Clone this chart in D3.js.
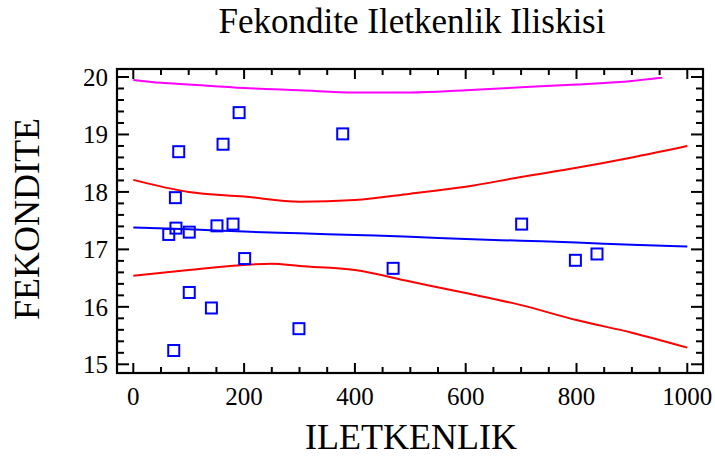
<!DOCTYPE html>
<html>
<head>
<meta charset="utf-8">
<script src="https://cdn.jsdelivr.net/npm/d3@7"></script>
<style>
  body { margin: 0; background: #fff; }
</style>
</head>
<body>
<div id="chart"></div>
<script>
// observations (ILETKENLIK, FEKONDITE)
var obsX = [82, 162, 191, 378, 76, 77, 64, 101, 151, 180, 201, 101, 141, 73, 299, 469, 701, 798, 837];
var obsY = [18.70, 18.83, 19.38, 19.01, 17.90, 17.37, 17.26, 17.30, 17.41, 17.44, 16.84, 16.25, 15.98, 15.24, 15.62, 16.67, 17.44, 16.81, 16.92];

// fitted line
var fitX = [0, 100, 200, 300, 400, 500, 600, 700, 800, 900, 1000];
var fitY = [17.38, 17.35, 17.31, 17.28, 17.25, 17.22, 17.18, 17.15, 17.12, 17.08, 17.05];

// confidence limits
var confX = [0, 100, 200, 250, 300, 400, 500, 600, 700, 800, 900, 1000];
var confLo = [16.54, 16.64, 16.73, 16.75, 16.71, 16.64, 16.44, 16.24, 16.03, 15.77, 15.55, 15.29];
var confHiX = [0, 100, 200, 300, 400, 500, 600, 700, 800, 900, 1000];
var confHi = [18.21, 18.00, 17.92, 17.83, 17.86, 17.97, 18.09, 18.26, 18.42, 18.60, 18.80];

// upper prediction limit
var predX = [0, 50, 100, 200, 300, 400, 500, 600, 700, 800, 900, 955];
var predHi = [19.95, 19.90, 19.87, 19.81, 19.77, 19.73, 19.73, 19.77, 19.82, 19.87, 19.93, 19.99];

var xTicks = [0, 200, 400, 600, 800, 1000];
var yTicks = [15, 16, 17, 18, 19, 20];

var W = 715, H = 456;
var frame = { left: 117, right: 703, top: 69, bottom: 373 };
var FONT = "'Liberation Serif', 'Times New Roman', serif";

var svg = d3.select("#chart").append("svg")
  .attr("width", W).attr("height", H);

var x = d3.scaleLinear().domain([0, 1000]).range([133.3, 687.3]);
var y = d3.scaleLinear().domain([15, 20]).range([364.3, 77]);

// title
svg.append("text")
  .attr("x", 412).attr("y", 33)
  .attr("text-anchor", "middle")
  .attr("font-family", FONT)
  .attr("font-size", 35)
  .text("Fekondite Iletkenlik Iliskisi");

// axis titles
svg.append("text")
  .attr("x", 411).attr("y", 449)
  .attr("text-anchor", "middle")
  .attr("font-family", FONT)
  .attr("font-size", 36)
  .text("ILETKENLIK");

svg.append("text")
  .attr("transform", "translate(39,219) rotate(-90)")
  .attr("text-anchor", "middle")
  .attr("font-family", FONT)
  .attr("font-size", 36)
  .text("FEKONDITE");

// clip for curves
svg.append("clipPath").attr("id", "plotclip")
  .append("rect")
  .attr("x", frame.left).attr("y", y(20))
  .attr("width", frame.right - frame.left)
  .attr("height", frame.bottom - y(20));

var plot = svg.append("g").attr("clip-path", "url(#plotclip)");

var line = d3.line()
  .x(function(d) { return x(d[0]); })
  .y(function(d) { return y(d[1]); })
  .curve(d3.curveMonotoneX);

function addCurve(xs, ys, color) {
  plot.append("path")
    .datum(d3.zip(xs, ys))
    .attr("d", line)
    .attr("fill", "none")
    .attr("stroke", color)
    .attr("stroke-width", 2);
}

addCurve(predX, predHi, "#ff00ff");
addCurve(confHiX, confHi, "#ff0000");
addCurve(confX, confLo, "#ff0000");
addCurve(fitX, fitY, "#0000ff");

// points
svg.append("g").selectAll("rect")
  .data(d3.zip(obsX, obsY))
  .enter().append("rect")
  .attr("x", function(d) { return x(d[0]) - 5.5; })
  .attr("y", function(d) { return y(d[1]) - 5.5; })
  .attr("width", 11).attr("height", 11)
  .attr("fill", "none")
  .attr("stroke", "#0000ff")
  .attr("stroke-width", 2);

// ticks (inward), all four sides
var xMinor = d3.range(0, 1001, 50);
var yMinor = d3.range(15, 20.01, 0.2);
var ax = svg.append("g").attr("stroke", "#000").attr("stroke-width", 2);

xMinor.forEach(function(v) {
  var len = (v % 200 === 0) ? 10 : 6;
  ax.append("line").attr("x1", x(v)).attr("x2", x(v))
    .attr("y1", frame.bottom).attr("y2", frame.bottom - len);
  ax.append("line").attr("x1", x(v)).attr("x2", x(v))
    .attr("y1", frame.top).attr("y2", frame.top + len);
});

yMinor.forEach(function(v) {
  var major = Math.abs(v - Math.round(v)) < 1e-6;
  var len = major ? 12 : 7;
  ax.append("line").attr("y1", y(v)).attr("y2", y(v))
    .attr("x1", frame.left).attr("x2", frame.left + len);
  ax.append("line").attr("y1", y(v)).attr("y2", y(v))
    .attr("x1", frame.right).attr("x2", frame.right - len);
});

svg.append("rect")
  .attr("x", frame.left).attr("y", frame.top)
  .attr("width", frame.right - frame.left)
  .attr("height", frame.bottom - frame.top)
  .attr("fill", "none")
  .attr("stroke", "#000")
  .attr("stroke-width", 2.2);

// tick labels
svg.append("g").selectAll("text")
  .data(xTicks).enter().append("text")
  .attr("x", function(d) { return x(d); })
  .attr("y", 405)
  .attr("text-anchor", "middle")
  .attr("font-family", FONT)
  .attr("font-size", 25)
  .text(function(d) { return d; });

svg.append("g").selectAll("text")
  .data(yTicks).enter().append("text")
  .attr("x", 108)
  .attr("y", function(d) { return y(d) + 9; })
  .attr("text-anchor", "end")
  .attr("font-family", FONT)
  .attr("font-size", 25)
  .text(function(d) { return d; });
</script>
</body>
</html>
